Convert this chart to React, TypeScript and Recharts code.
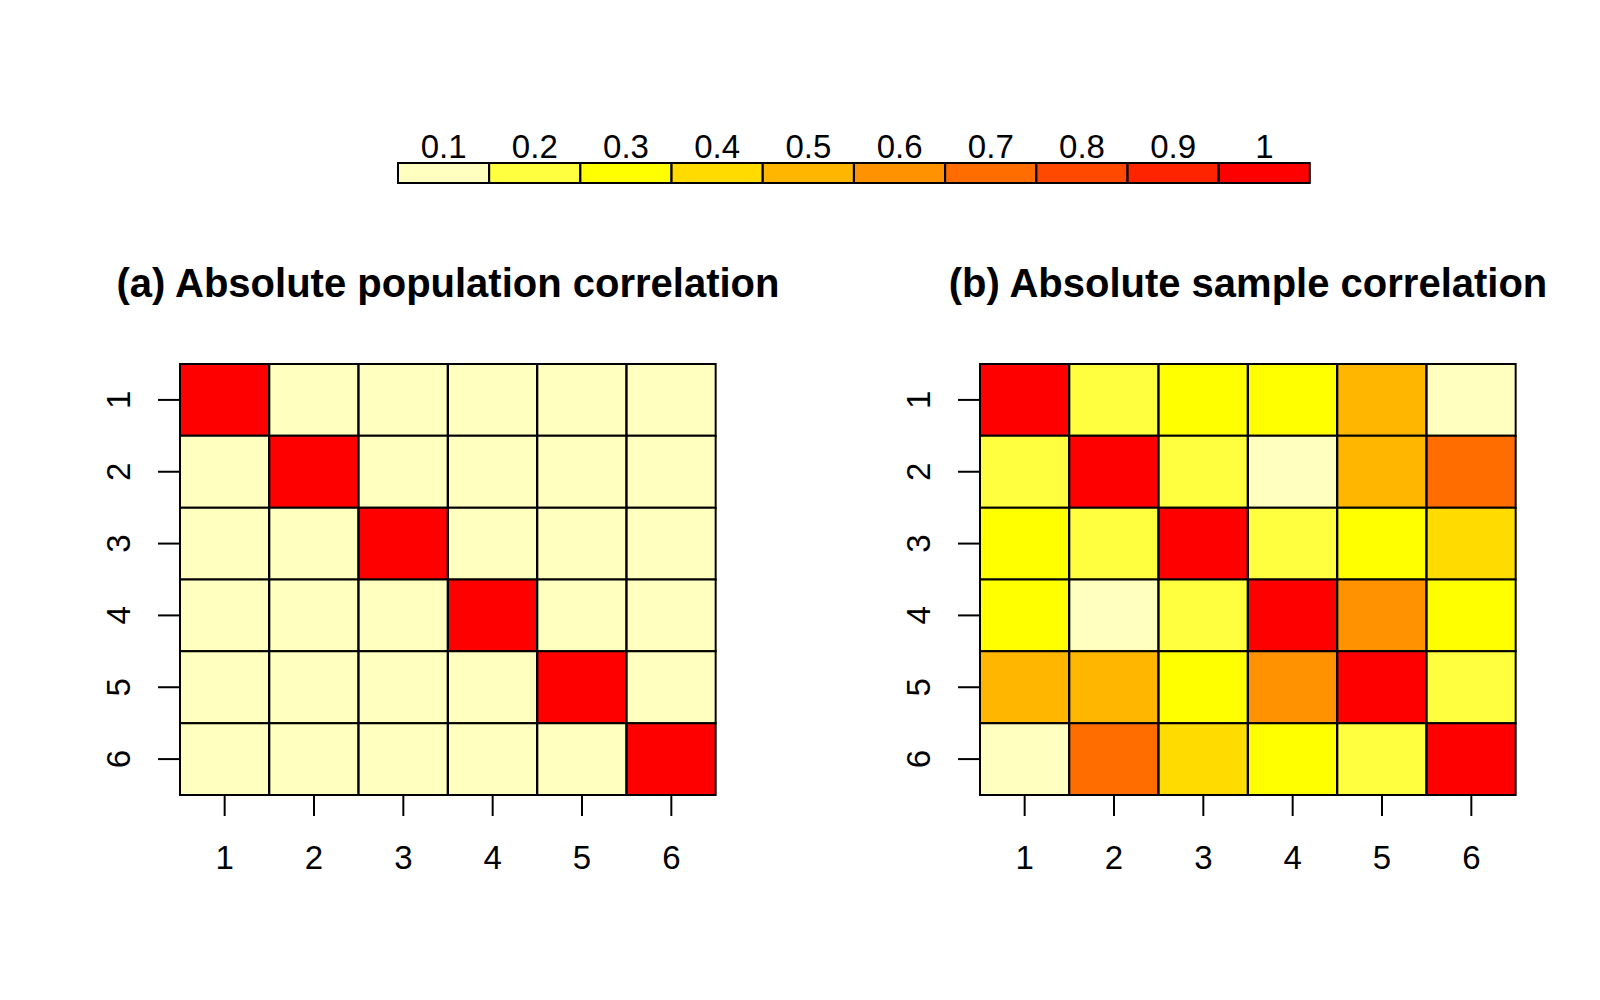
import { BarChart, Bar, Cell, XAxis, YAxis } from 'recharts';

// legend bins (heat colours, light -> red)
const binLabels = ['0.1', '0.2', '0.3', '0.4', '0.5', '0.6', '0.7', '0.8', '0.9', '1'];
const binColors = [
  '#FFFFBF', '#FFFF40', '#FFFF00', '#FFDB00', '#FFB600',
  '#FF9200', '#FF6D00', '#FF4900', '#FF2400', '#FF0000',
];

const varLabels = ['1', '2', '3', '4', '5', '6'];

// (a) absolute population correlation
const populationCorr = [
  [1.0, 0.05, 0.05, 0.05, 0.05, 0.05],
  [0.05, 1.0, 0.05, 0.05, 0.05, 0.05],
  [0.05, 0.05, 1.0, 0.05, 0.05, 0.05],
  [0.05, 0.05, 0.05, 1.0, 0.05, 0.05],
  [0.05, 0.05, 0.05, 0.05, 1.0, 0.05],
  [0.05, 0.05, 0.05, 0.05, 0.05, 1.0],
];

// (b) absolute sample correlation
const sampleCorr = [
  [1.0, 0.16, 0.25, 0.27, 0.45, 0.04],
  [0.16, 1.0, 0.18, 0.06, 0.44, 0.63],
  [0.25, 0.18, 1.0, 0.14, 0.26, 0.35],
  [0.27, 0.06, 0.14, 1.0, 0.55, 0.24],
  [0.45, 0.44, 0.26, 0.55, 1.0, 0.17],
  [0.04, 0.63, 0.35, 0.24, 0.17, 1.0],
];

const FONT = '"Liberation Sans", Arial, Helvetica, sans-serif';

function colorFor(v: number) {
  const idx = Math.ceil(v * 10 - 1e-9) - 1;
  return binColors[Math.min(9, Math.max(0, idx))];
}

const XTick = ({ x, y, payload }: any) => (
  <text x={x} y={y} dy="0.36em" textAnchor="middle" fontSize={33} fill="#000">
    {payload.value}
  </text>
);

const YTick = ({ x, y, payload }: any) => (
  <text
    x={x}
    y={y}
    dy="0.36em"
    textAnchor="middle"
    fontSize={33}
    fill="#000"
    transform={`rotate(-90, ${x}, ${y})`}
  >
    {varLabels[Math.floor(payload.value)]}
  </text>
);

const LegendTick = ({ x, y, payload }: any) => (
  <text x={x} y={y} dy="0.36em" textAnchor="middle" fontSize={33} fill="#000">
    {payload.value}
  </text>
);

function Heatmap({ matrix }: { matrix: number[][] }) {
  // one column per variable, one stacked unit segment per row
  const data = varLabels.map((col, j) => {
    const d: Record<string, string | number> = { col };
    varLabels.forEach((_, i) => {
      d[`r${i}`] = 1;
    });
    return d;
  });

  return (
    <BarChart
      width={640}
      height={560}
      data={data}
      barCategoryGap={0}
      margin={{ top: 24, right: 24, bottom: 25, left: 20 }}
    >
      <XAxis
        dataKey="col"
        height={80}
        axisLine={false}
        tickSize={21}
        tickMargin={41}
        tickLine={{ stroke: '#000', strokeWidth: 2 }}
        tick={<XTick />}
        interval={0}
      />
      <YAxis
        type="number"
        domain={[0, 6]}
        reversed
        width={60}
        ticks={[0.5, 1.5, 2.5, 3.5, 4.5, 5.5]}
        axisLine={false}
        tickSize={22}
        tickMargin={40}
        tickLine={{ stroke: '#000', strokeWidth: 2 }}
        tick={<YTick />}
        interval={0}
      />
      {varLabels.map((_, i) => (
        <Bar
          key={i}
          dataKey={`r${i}`}
          stackId="cells"
          stroke="#000"
          strokeWidth={2}
          isAnimationActive={false}
        >
          {varLabels.map((__, j) => (
            <Cell key={j} fill={colorFor(matrix[i][j])} />
          ))}
        </Bar>
      ))}
    </BarChart>
  );
}

function ColorLegend() {
  const data = binLabels.map((label) => ({ label, w: 1 }));
  return (
    <BarChart
      width={930}
      height={90}
      data={data}
      barCategoryGap={0}
      margin={{ top: 23, right: 10, bottom: 7, left: 8 }}
    >
      <XAxis
        dataKey="label"
        orientation="top"
        height={40}
        axisLine={false}
        tickLine={false}
        tickSize={0}
        tickMargin={17}
        tick={<LegendTick />}
        interval={0}
      />
      <YAxis hide domain={[0, 1]} />
      <Bar dataKey="w" stroke="#000" strokeWidth={2} isAnimationActive={false}>
        {binColors.map((c, i) => (
          <Cell key={i} fill={c} />
        ))}
      </Bar>
    </BarChart>
  );
}

const titleStyle: React.CSSProperties = {
  position: 'absolute',
  top: 260,
  width: 800,
  textAlign: 'center',
  fontSize: 40,
  fontWeight: 'bold',
  lineHeight: '46px',
  whiteSpace: 'nowrap',
};

export default function App() {
  return (
    <div
      style={{
        position: 'absolute',
        left: 0,
        top: 0,
        width: 1600,
        height: 1000,
        background: '#fff',
        fontFamily: FONT,
        color: '#000',
      }}
    >
      <div style={{ position: 'absolute', left: 390, top: 100 }}>
        <ColorLegend />
      </div>

      <div style={{ ...titleStyle, left: 448 - 400 }}>(a) Absolute population correlation</div>
      <div style={{ ...titleStyle, left: 1248 - 400 }}>(b) Absolute sample correlation</div>

      <div style={{ position: 'absolute', left: 100, top: 340 }}>
        <Heatmap matrix={populationCorr} />
      </div>
      <div style={{ position: 'absolute', left: 900, top: 340 }}>
        <Heatmap matrix={sampleCorr} />
      </div>
    </div>
  );
}
